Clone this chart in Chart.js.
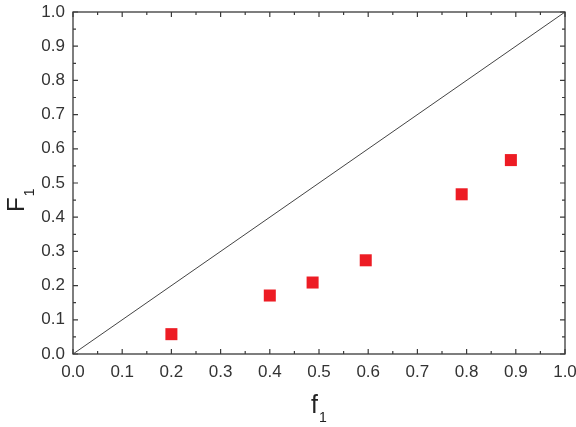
<!DOCTYPE html>
<html>
<head>
<meta charset="utf-8">
<script src="https://cdn.jsdelivr.net/npm/chart.js@4/dist/chart.umd.min.js"></script>
<style>
  html, body { margin: 0; padding: 0; background: #fff; }
  #wrap { width: 576px; height: 427px; }
</style>
</head>
<body>
<div id="wrap"><canvas id="myChart" width="576" height="427"></canvas></div>
<script>
// measured points
const fValues = [0.20, 0.40, 0.487, 0.595, 0.79, 0.89];
const FValues = [0.058, 0.171, 0.209, 0.274, 0.467, 0.567];
// y = x reference line
const diagX = [0, 1];
const diagY = [0, 1];
const tickStep = 0.1;
const minorStep = 0.05;

const axisColor = "#3a3a3a";
const fontFamily = "'Liberation Sans', Arial, sans-serif";

// frame, inward ticks on four sides, axis titles with subscript
const framePlugin = {
  id: "frame",
  afterDraw(chart) {
    const { ctx, chartArea: a, scales } = chart;
    const xs = scales.x, ys = scales.y;
    ctx.save();
    ctx.strokeStyle = axisColor;
    ctx.lineWidth = 1.3;
    ctx.strokeRect(a.left, a.top, a.right - a.left, a.bottom - a.top);

    ctx.lineWidth = 1.2;
    for (let i = 0; i <= 20; i++) {
      const v = i * minorStep;
      const len = i % 2 === 0 ? 5 : 3;
      const px = xs.getPixelForValue(v);
      const py = ys.getPixelForValue(v);
      ctx.beginPath();
      ctx.moveTo(px, a.bottom); ctx.lineTo(px, a.bottom - len);
      ctx.moveTo(px, a.top); ctx.lineTo(px, a.top + len);
      ctx.moveTo(a.left, py); ctx.lineTo(a.left + len, py);
      ctx.moveTo(a.right, py); ctx.lineTo(a.right - len, py);
      ctx.stroke();
    }

    ctx.fillStyle = "#222";
    ctx.textBaseline = "alphabetic";
    ctx.textAlign = "left";
    // x title f1
    ctx.font = "25px " + fontFamily;
    const fw = ctx.measureText("f").width;
    ctx.fillText("f", 311, 413);
    ctx.font = "14px " + fontFamily;
    ctx.fillText("1", 311 + fw + 1, 422);

    // y title F1 rotated
    ctx.translate(24, 212);
    ctx.rotate(-Math.PI / 2);
    ctx.font = "24px " + fontFamily;
    const Fw = ctx.measureText("F").width;
    ctx.fillText("F", 0, 0);
    ctx.font = "14px " + fontFamily;
    ctx.fillText("1", Fw + 1, 10);
    ctx.restore();
  }
};

function noPad(scale) {
  scale.paddingTop = 0;
  scale.paddingBottom = 0;
  scale.paddingLeft = 0;
  scale.paddingRight = 0;
}

const canvas = document.getElementById("myChart");
new Chart(canvas, {
  type: "scatter",
  data: {
    datasets: [
      {
        label: "F1",
        data: fValues.map((f, i) => ({ x: f, y: FValues[i] })),
        pointStyle: "rect",
        pointRadius: 8.5,
        pointHoverRadius: 8.5,
        borderWidth: 0,
        backgroundColor: "#ed1c24",
        borderColor: "#ed1c24"
      },
      {
        label: "diag",
        type: "line",
        data: diagX.map((x, i) => ({ x: x, y: diagY[i] })),
        borderColor: "#444",
        borderWidth: 1,
        pointRadius: 0,
        fill: false
      }
    ]
  },
  options: {
    responsive: false,
    animation: false,
    layout: { padding: { top: 12, right: 11, left: 0, bottom: 0 } },
    plugins: { legend: { display: false }, tooltip: { enabled: false } },
    scales: {
      x: {
        type: "linear",
        min: 0, max: 1,
        grid: { display: false, drawTicks: false },
        border: { display: false },
        ticks: {
          stepSize: tickStep,
          padding: 8,
          color: "#333",
          font: { family: fontFamily, size: 17 },
          maxRotation: 0,
          autoSkip: false,
          callback: v => v.toFixed(1)
        },
        afterFit(scale) { scale.height = 73; noPad(scale); }
      },
      y: {
        type: "linear",
        min: 0, max: 1,
        grid: { display: false, drawTicks: false },
        border: { display: false },
        ticks: {
          stepSize: tickStep,
          padding: 8,
          color: "#333",
          font: { family: fontFamily, size: 17 },
          autoSkip: false,
          callback: v => v.toFixed(1)
        },
        afterFit(scale) { scale.width = 73; noPad(scale); }
      }
    }
  },
  plugins: [framePlugin]
});
</script>
</body>
</html>
